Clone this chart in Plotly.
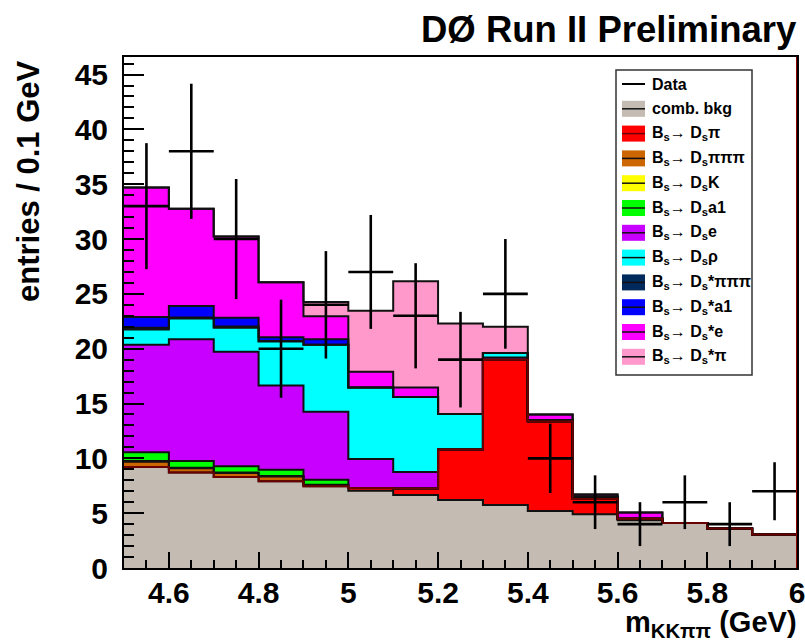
import numpy as np
import plotly.graph_objects as go

# ---- histogram binning (m_KKpipi in GeV, 0.1 GeV bins) ----
bin_edges = [4.5, 4.6, 4.7, 4.8, 4.9, 5.0, 5.1, 5.2, 5.3, 5.4, 5.5, 5.6, 5.7, 5.8, 5.9, 6.0]

# ---- observed events per bin ----
data_counts = [33, 38, 30, 20, 24, 27, 23, 19, 25, 10, 6, 4, 6, 4, 7]

# ---- stacked expectation, bottom to top ----
comb_bkg   = [9.2, 8.7, 8.3, 7.9, 7.45, 7.05, 6.65, 6.2, 5.75, 5.2, 4.9, 4.35, 4.1, 3.6, 3.05]
ds_pi      = [0, 0, 0, 0, 0, 0.25, 0.6, 4.6, 13.25, 8.15, 1.4, 0.15, 0, 0, 0]
ds_3pi     = [0.5, 0.4, 0.37, 0.45, 0.1, 0, 0, 0, 0, 0, 0, 0, 0, 0, 0]
ds_k       = [0.05, 0.05, 0.05, 0.05, 0.05, 0, 0, 0, 0, 0, 0, 0, 0, 0, 0]
ds_a1      = [0.8, 0.6, 0.55, 0.55, 0.45, 0, 0, 0, 0, 0, 0, 0, 0, 0, 0]
ds_e       = [9.8, 11.1, 10.45, 7.7, 6.2, 2.65, 1.5, 0, 0.2, 0.15, 0.2, 0, 0, 0, 0]
ds_rho     = [1.4, 1.9, 2.2, 4.0, 6.1, 6.5, 6.85, 3.25, 0.4, 0, 0, 0, 0, 0, 0]
dss_3pi    = [0.15, 0.1, 0.1, 0.05, 0, 0, 0, 0, 0, 0, 0, 0, 0, 0, 0]
dss_a1     = [1.0, 1.05, 0.8, 0.35, 0.5, 0, 0, 0, 0, 0, 0, 0, 0, 0, 0]
dss_e      = [11.8, 8.85, 7.4, 5.0, 2.1, 1.45, 0.85, 0, 0, 0.5, 0.2, 0.55, 0, 0, 0]
dss_pi     = [0, 0, 0, 0, 1.3, 5.55, 9.7, 8.25, 2.4, 0, 0, 0, 0, 0, 0]

PI = "π"
ARROW = "→ "
component_labels = [
    "comb. bkg",
    "B<sub>s</sub>" + ARROW + "D<sub>s</sub>" + PI,
    "B<sub>s</sub>" + ARROW + "D<sub>s</sub>" + PI * 3,
    "B<sub>s</sub>" + ARROW + "D<sub>s</sub>K",
    "B<sub>s</sub>" + ARROW + "D<sub>s</sub>a1",
    "B<sub>s</sub>" + ARROW + "D<sub>s</sub>e",
    "B<sub>s</sub>" + ARROW + "D<sub>s</sub>ρ",
    "B<sub>s</sub>" + ARROW + "D<sub>s</sub>*" + PI * 3,
    "B<sub>s</sub>" + ARROW + "D<sub>s</sub>*a1",
    "B<sub>s</sub>" + ARROW + "D<sub>s</sub>*e",
    "B<sub>s</sub>" + ARROW + "D<sub>s</sub>*" + PI,
]
component_values = [comb_bkg, ds_pi, ds_3pi, ds_k, ds_a1, ds_e, ds_rho,
                    dss_3pi, dss_a1, dss_e, dss_pi]
component_colors = ["#c4bbb2", "#ff0000", "#cc6600", "#ffff00", "#00ff00", "#c800ff",
                    "#00ffff", "#002a5c", "#0000ff", "#ff00ff", "#ff99cc"]
outline_colors = ["#111111", "#6b0000", "#111111", "#111111", "#111111", "#111111",
                  "#111111", "#111111", "#111111", "#111111", "#111111"]

FONT = "Liberation Sans, Arial, sans-serif"

edges = np.array(bin_edges)
cumulative = np.cumsum(np.array(component_values, dtype=float), axis=0)

fig = go.Figure()

# filled layers of the stack (step shape, each filled down to the layer below)
for i, (vals, col) in enumerate(zip(cumulative, component_colors)):
    ystep = np.append(vals, vals[-1])
    fig.add_trace(go.Scatter(
        x=edges, y=ystep, mode="lines", line=dict(width=0, shape="hv"),
        fill="tozeroy" if i == 0 else "tonexty", fillcolor=col,
        hoverinfo="skip", showlegend=False))

# outlines of each layer, upper layers first so the lower outlines end on top
order = list(range(len(cumulative) - 1, -1, -1))
order.remove(1)
order.append(1)
for i in order:
    vals = cumulative[i]
    ystep = np.append(vals, vals[-1])
    fig.add_trace(go.Scatter(
        x=edges, y=ystep, mode="lines",
        line=dict(width=2, shape="hv", color=outline_colors[i]),
        hoverinfo="skip", showlegend=False))

# data points with Poisson errors and bin-width horizontal bars
centers = (edges[:-1] + edges[1:]) / 2
half_width = np.diff(edges) / 2
counts = np.array(data_counts, dtype=float)
fig.add_trace(go.Scatter(
    x=centers, y=counts, mode="markers",
    marker=dict(size=0.1, color="black"),
    error_y=dict(type="data", array=np.sqrt(counts), color="black", thickness=2.6, width=0),
    error_x=dict(type="data", array=half_width, color="black", thickness=2.6, width=0),
    showlegend=False, hoverinfo="skip"))

# ---- frame geometry in pixels ----
W, H = 805, 644
ML, MR, MT, MB = 124, 8, 57, 76
PW, PH = W - ML - MR, H - MT - MB


def px_x(px):
    return (px - ML) / PW


def px_y(py):
    return (H - MB - py) / PH


shapes = []
annotations = []

# right edge of the frame
shapes.append(dict(type="line", xref="x", yref="paper", x0=6.0, x1=6.0, y0=0, y1=1,
                   line=dict(color="#8b0000", width=2)))

# legend box
lx0, lx1, ly0, ly1 = 616, 752, 70, 375
shapes.append(dict(type="rect", xref="paper", yref="paper",
                   x0=px_x(lx0), x1=px_x(lx1), y0=px_y(ly1), y1=px_y(ly0),
                   line=dict(color="#333333", width=1.5), fillcolor="white"))

row0, row_step = 84, 24.8
sx0, sx1, sh = 622, 645, 8
text_x = 650
legend_font = dict(family=FONT, size=16, color="black", weight="bold")

# data entry: a plain line
shapes.append(dict(type="line", xref="paper", yref="paper",
                   x0=px_x(sx0), x1=px_x(sx1), y0=px_y(row0), y1=px_y(row0),
                   line=dict(color="black", width=2)))
annotations.append(dict(text="Data", xref="paper", yref="paper", x=px_x(text_x), y=px_y(row0),
                        xanchor="left", yanchor="middle", showarrow=False, font=legend_font))

for k, (lab, col, lcol) in enumerate(zip(component_labels, component_colors, outline_colors)):
    yc = row0 + row_step * (k + 1)
    shapes.append(dict(type="rect", xref="paper", yref="paper",
                       x0=px_x(sx0), x1=px_x(sx1), y0=px_y(yc + sh), y1=px_y(yc - sh),
                       line=dict(width=0), fillcolor=col))
    shapes.append(dict(type="line", xref="paper", yref="paper",
                       x0=px_x(sx0), x1=px_x(sx1), y0=px_y(yc), y1=px_y(yc),
                       line=dict(color=lcol, width=1.5)))
    annotations.append(dict(text=lab, xref="paper", yref="paper", x=px_x(text_x), y=px_y(yc),
                            xanchor="left", yanchor="middle", showarrow=False, font=legend_font))

# titles
annotations.append(dict(text="DØ Run II Preliminary", xref="paper", yref="paper",
                        x=px_x(799), y=px_y(29), xanchor="right", yanchor="middle",
                        showarrow=False, font=dict(family=FONT, size=36.5, color="black", weight="bold")))
annotations.append(dict(text="m<sub>KKππ</sub> (GeV)", xref="paper", yref="paper",
                        x=px_x(799), y=px_y(624), xanchor="right", yanchor="middle",
                        showarrow=False, font=dict(family=FONT, size=29, color="black", weight="bold")))
annotations.append(dict(text="entries / 0.1 GeV", xref="paper", yref="paper", textangle=-90,
                        x=px_x(28), y=px_y(58), xanchor="center", yanchor="top",
                        showarrow=False, font=dict(family=FONT, size=31, color="black", weight="bold")))

tick_font = dict(family=FONT, size=30, color="black", weight="bold")

fig.update_layout(
    width=W, height=H,
    margin=dict(l=ML, r=MR, t=MT, b=MB, pad=0, autoexpand=False),
    paper_bgcolor="white", plot_bgcolor="white",
    showlegend=False,
    shapes=shapes, annotations=annotations,
    xaxis=dict(
        range=[4.5, 6.0], tickmode="array",
        tickvals=[4.6, 4.8, 5.0, 5.2, 5.4, 5.6, 5.8, 6.0],
        ticktext=["4.6", "4.8", "5", "5.2", "5.4", "5.6", "5.8", "6"],
        ticks="inside", ticklen=16, tickwidth=1.5, tickcolor="black",
        minor=dict(tickmode="linear", tick0=4.5, dtick=0.05, ticks="inside",
                   ticklen=8, tickwidth=1.5, tickcolor="black"),
        showline=True, linecolor="black", linewidth=2, mirror=True,
        showgrid=False, zeroline=False, tickfont=tick_font, ticklabelstandoff=-3,
        ticklabeloverflow="allow", automargin=False,
    ),
    yaxis=dict(
        range=[0, 46.6], tickmode="array", tickvals=list(range(0, 46, 5)),
        ticks="inside", ticklen=20, tickwidth=1.5, tickcolor="black",
        minor=dict(tickmode="linear", tick0=0, dtick=1, ticks="inside",
                   ticklen=10, tickwidth=1.5, tickcolor="black"),
        showline=True, linecolor="black", linewidth=2, mirror=True,
        showgrid=False, zeroline=False, tickfont=tick_font, ticklabelstandoff=8,
        ticklabeloverflow="allow", automargin=False,
    ),
)

fig.write_html("out.html")
